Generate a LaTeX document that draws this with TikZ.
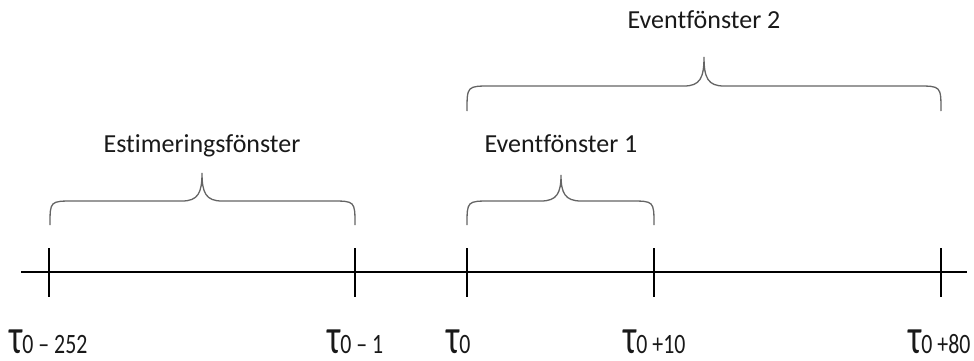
\documentclass[tikz,border=0pt]{standalone}
\usepackage{fontspec}
\setmainfont{Carlito}[Ligatures=NoCommon]
\definecolor{bracegray}{RGB}{100,100,100}
\definecolor{textgray}{RGB}{25,25,25}
\tikzset{
  axisline/.style={line width=1.5pt, black},
  tickline/.style={line width=1.5pt, black},
  bracepath/.style={line width=1.3pt, bracegray},
  wlabel/.style={font=\fontsize{26}{26}\selectfont, text=textgray, inner sep=0pt, anchor=base},
  taulabel/.style={inner sep=0pt, anchor=base west, text=textgray},
}
\newcommand{\taulab}[1]{\scalebox{0.85}[1.25]{\fontsize{40}{40}\selectfont τ}\scalebox{0.78}[1]{\fontsize{28}{28}\selectfont #1}}
% brace: x1, x2, xc, y bottom, y flat, y tip
\newcommand{\drawbrace}[6]{%
  \draw[bracepath] (#1,#4) .. controls (#1,#5) .. (#1+24,#5)
    -- (#3-20,#5) .. controls (#3-4,#5) and (#3,#5-8) .. (#3,#6)
    .. controls (#3,#5-8) and (#3+4,#5) .. (#3+20,#5)
    -- (#2-24,#5) .. controls (#2,#5) .. (#2,#4);}
\begin{document}
\begin{tikzpicture}[x=1pt,y=-1pt]
\useasboundingbox (0,0) rectangle (974,361);
% axis
\coordinate (aL) at (21,272);
\coordinate (aR) at (967,272);
\draw[axisline] (aL) -- (aR);
% ticks
\foreach \n/\x in {t1/49,t2/355,t3/467,t4/654,t5/941}{
  \coordinate (\n top) at (\x,248);
  \coordinate (\n bot) at (\x,297);
  \draw[tickline] (\n top) -- (\n bot);
}
% braces
\drawbrace{50}{355}{202}{225}{201}{173}
\drawbrace{467}{654}{561}{225}{201}{175}
\drawbrace{467}{941}{704}{111}{86}{57}
% brace labels
\node[wlabel] (estim) at (202,152) {Estimeringsfönster};
\node[wlabel] (ev1) at (561,152) {Eventfönster 1};
\node[wlabel] (ev2) at (704,29) {Eventfönster 2};
% tau labels
\node[taulabel] (l1) at (9,353) {\taulab{0 – 252}};
\node[taulabel] (l2) at (327,353) {\taulab{0 – 1}};
\node[taulabel] (l3) at (446,353) {\taulab{0}};
\node[taulabel] (l4) at (623,353) {\taulab{0 +10}};
\node[taulabel] (l5) at (908,353) {\taulab{0 +80}};
\end{tikzpicture}
\end{document}
